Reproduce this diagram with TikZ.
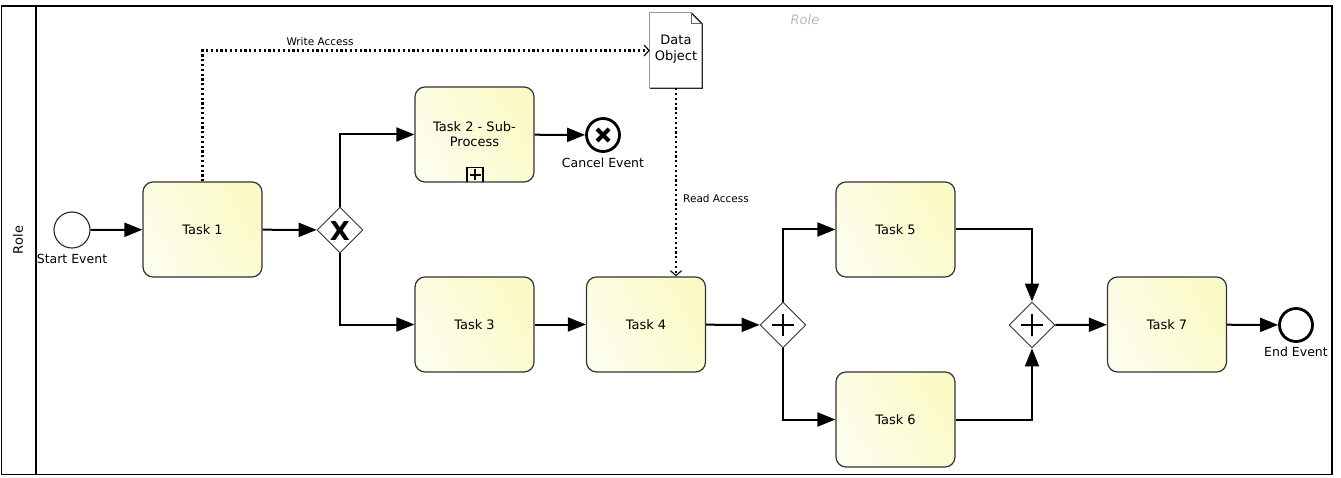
\documentclass[tikz,border=0pt]{standalone}
\usepackage{fontspec}
\setmainfont{DejaVu Sans}
\usetikzlibrary{shapes.geometric,arrows.meta}
\definecolor{taskfill}{RGB}{250,250,198}
\definecolor{tasklight}{RGB}{253,253,236}
\definecolor{rolegray}{RGB}{185,185,185}
\tikzset{
  task/.style={draw=black!80, line width=1.2pt, rounded corners=10pt,
    left color=tasklight, right color=taskfill, shading angle=120,
    minimum width=119pt, minimum height=95pt, inner sep=0pt, align=center,
    font=\fontsize{13}{15}\selectfont},
  gw/.style={diamond, draw=black!80, line width=0.9pt, fill=white, minimum width=46pt,
    minimum height=46pt, inner sep=0pt},
  evstart/.style={circle, draw=black!85, line width=1.1pt, fill=white, minimum size=36pt, inner sep=0pt},
  evend/.style={circle, draw=black, line width=2.8pt, fill=white, minimum size=33pt, inner sep=0pt},
  evlabel/.style={font=\fontsize{12.5}{15}\selectfont, inner sep=0pt},
  smalllabel/.style={font=\fontsize{10.5}{12}\selectfont, inner sep=0pt},
  flow/.style={line width=2pt, -{Triangle[length=18pt,width=14pt]}},
  assoc/.style={line width=2.2pt, dash pattern=on 2.2pt off 2.6pt,
    -{Straight Barb[length=5pt,width=11pt,line width=1.1pt]}},
}
\begin{document}
\begin{tikzpicture}[x=1pt,y=-1pt]
\useasboundingbox (0,0) rectangle (1341,478);
% pool / lane frame
\draw[line width=1.6pt] (1.5,6) rectangle (1332,474.5);
\draw[line width=1.6pt] (36,6) -- (36,474.5);
\node[rotate=90, font=\fontsize{13}{15}\selectfont] (lanelabel) at (18,240) {Role};
\node[font=\itshape\fontsize{13}{15}\selectfont, text=rolegray] (rolelabel) at (805,20) {Role};

% nodes
\node[evstart] (start) at (72,230) {};
\node[evlabel] (startlbl) at (72,259) {Start Event};
\node[task] (t1) at (202.5,229.5) {Task 1};
\node[gw] (g1) at (340,230) {};
\node[font=\bfseries\fontsize{26}{26}\selectfont, inner sep=0pt] (g1x) at (340,231) {X};
\node[task] (t2) at (474.5,134.5) {Task 2 - Sub-\\Process};
\draw[line width=1.2pt] (467,182) -- (467,167.5) -- (483,167.5) -- (483,182);
\draw[line width=1.2pt] (475,169.5) -- (475,180) (469.5,175) -- (480.5,175);
\node[evend] (cancel) at (603,135) {};
\draw[line width=4pt] (cancel.center) ++(-6,-6) -- ++(12,12);
\draw[line width=4pt] (cancel.center) ++(6,-6) -- ++(-12,12);
\node[evlabel] (cancellbl) at (603,163) {Cancel Event};

\node[minimum width=52pt, minimum height=75pt, inner sep=0pt] (data) at (676,50.5) {};
\fill[white] (data.south west) -- (data.north west) -- ([xshift=-11pt]data.north east)
  -- ([yshift=-11pt]data.north east) -- (data.south east) -- cycle;
\draw[draw=black!40, line width=0.9pt]
  (data.south west) -- (data.north west) -- ([xshift=-11pt]data.north east);
\draw[draw=black!85, line width=1.3pt]
  ([xshift=-11pt]data.north east) -- ([yshift=-11pt]data.north east) -- (data.south east) -- (data.south west);
\draw[draw=black!60, line width=0.8pt]
  ([xshift=-11pt]data.north east) -- ([xshift=-11pt,yshift=-11pt]data.north east) -- ([yshift=-11pt]data.north east);
\node[align=center, inner sep=0pt, font=\fontsize{13}{16}\selectfont] (datatext) at (676,49) {Data\\Object};

\node[task] (t3) at (474.5,324.5) {Task 3};
\node[task] (t4) at (646,324.5) {Task 4};
\node[gw] (g2) at (783,325) {};
\draw[line width=2.8pt] (g2.center) ++(-11,0) -- ++(22,0);
\draw[line width=2.8pt] (g2.center) ++(0,-11) -- ++(0,22);
\node[task] (t5) at (895.5,229.5) {Task 5};
\node[task] (t6) at (895.5,419.5) {Task 6};
\node[gw] (g3) at (1032,325) {};
\draw[line width=2.8pt] (g3.center) ++(-11,0) -- ++(22,0);
\draw[line width=2.8pt] (g3.center) ++(0,-11) -- ++(0,22);
\node[task] (t7) at (1167,324.5) {Task 7};
\node[evend] (end) at (1296,325) {};
\node[evlabel] (endlbl) at (1296,352) {End Event};

% sequence flows
\draw[flow] (start) -- (t1);
\draw[flow] (t1) -- (g1);
\draw[flow] (g1.north) |- (t2.west);
\draw[flow] (g1.south) |- (t3.west);
\draw[flow] (t2) -- (cancel);
\draw[flow] (t3) -- (t4);
\draw[flow] (t4) -- (g2);
\draw[flow] (g2.north) |- (t5.west);
\draw[flow] (g2.south) |- (t6.west);
\draw[flow] (t5.east) -| (g3.north);
\draw[flow] (t6.east) -| (g3.south);
\draw[flow] (g3) -- (t7);
\draw[flow] (t7) -- (end);

% associations
\draw[assoc] (t1.north) |- (data.west);
\node[smalllabel] (wlbl) at (320,42) {Write Access};
\draw[assoc] (data.south) -- (data.south |- t4.north);
\node[smalllabel, anchor=west] (rlbl) at (683,199) {Read Access};
\end{tikzpicture}
\end{document}
